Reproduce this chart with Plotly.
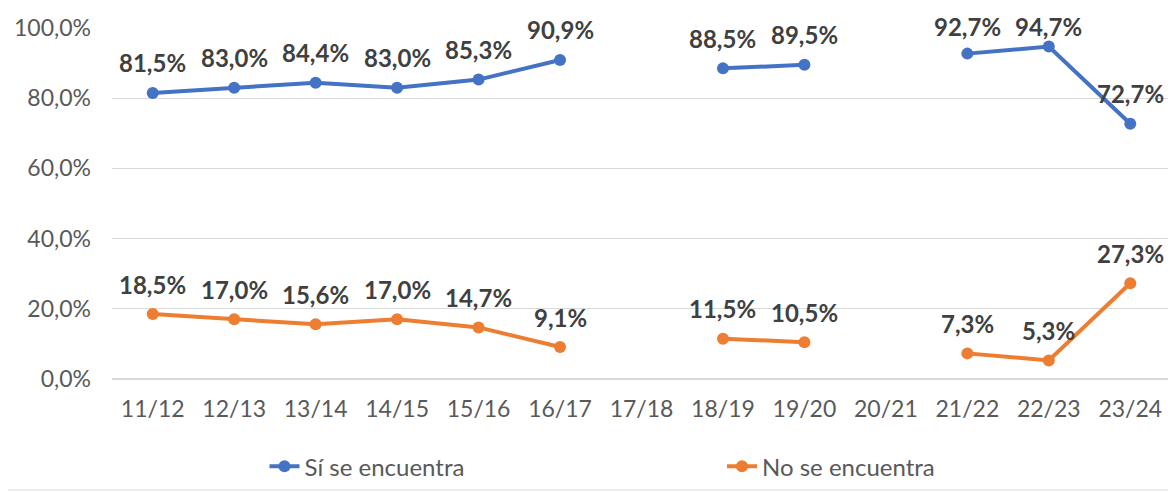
import plotly.graph_objects as go

# Cursos y porcentajes (None = sin dato)
cursos = ["11/12", "12/13", "13/14", "14/15", "15/16", "16/17", "17/18",
          "18/19", "19/20", "20/21", "21/22", "22/23", "23/24"]
si_se_encuentra = [81.5, 83.0, 84.4, 83.0, 85.3, 90.9, None, 88.5, 89.5, None, 92.7, 94.7, 72.7]
no_se_encuentra = [18.5, 17.0, 15.6, 17.0, 14.7, 9.1, None, 11.5, 10.5, None, 7.3, 5.3, 27.3]
y_ticks = [0, 20, 40, 60, 80, 100]
y_tick_labels = ["0,0%", "20,0%", "40,0%", "60,0%", "80,0%", "100,0%"]

azul = "#4472C4"
naranja = "#ED7D31"
fuente = "Lato"

# alto del área de trazado en px (para que las etiquetas no se salgan por arriba)
alto_plot = 351
px_por_unidad = alto_plot / 100


def etiqueta(v):
    return f"{v:.1f}".replace(".", ",") + "%"


fig = go.Figure()
fig.add_trace(go.Scatter(x=cursos, y=si_se_encuentra, name="Sí se encuentra",
                         mode="lines+markers", connectgaps=False, legend="legend",
                         line=dict(color=azul, width=4), marker=dict(size=12, color=azul)))
fig.add_trace(go.Scatter(x=cursos, y=no_se_encuentra, name="No se encuentra",
                         mode="lines+markers", connectgaps=False, legend="legend2",
                         line=dict(color=naranja, width=4), marker=dict(size=12, color=naranja)))

# Etiquetas de datos encima de cada punto (como en Excel, no pasan del borde superior)
for serie in [si_se_encuentra, no_se_encuentra]:
    for i, v in enumerate(serie):
        if v is None:
            continue
        desplaz = min(30, (100 - v) * px_por_unidad + 1)
        fig.add_annotation(x=cursos[i], y=v, text=etiqueta(v), showarrow=False,
                           yshift=desplaz,
                           font=dict(family=fuente, size=24, color="#404040", weight="bold"))

# la página tiene ~8px de margen, por eso los márgenes van algo corridos
leyenda = dict(orientation="h", y=-0.25, yanchor="middle", xanchor="left",
               bgcolor="rgba(0,0,0,0)", font=dict(size=24, color="#595959"))
fig.update_layout(
    width=1176, height=493,
    margin=dict(l=104, r=13, t=20, b=122, autoexpand=False),
    plot_bgcolor="white", paper_bgcolor="white",
    font=dict(family=fuente, size=22, color="#595959"),
    showlegend=True,
    legend=dict(leyenda, x=0.144),
    legend2=dict(leyenda, x=0.576),
)
fig.update_xaxes(range=[-0.5, 12.5], showgrid=False, ticks="", showline=False, automargin=False,
                 tickfont=dict(size=23), ticklabelstandoff=14)
fig.update_yaxes(range=[0, 100], tickvals=y_ticks, ticktext=y_tick_labels,
                 gridcolor="#D9D9D9", gridwidth=1, zeroline=True, zerolinecolor="#D9D9D9",
                 showline=False, ticks="", automargin=False,
                 tickfont=dict(size=23), ticklabelstandoff=20)

# marco gris claro alrededor del gráfico
fig.add_shape(type="rect", xref="paper", yref="paper",
              x0=-107 / 1059, x1=1 + 2 / 1059, y0=-111 / 351, y1=1 + 25 / 351,
              line=dict(color="#D9D9D9", width=1))

fig.write_html("out.html")
